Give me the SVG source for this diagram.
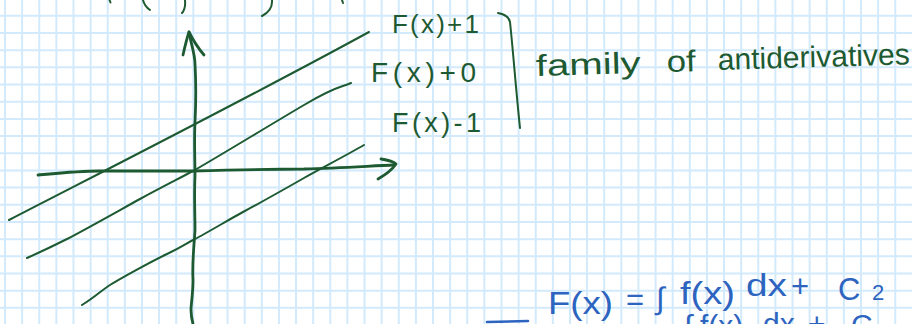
<svg xmlns="http://www.w3.org/2000/svg" width="912" height="324" viewBox="0 0 912 324">
<style>
.grid{fill:none;stroke:#d2eafb;stroke-width:2}
.ink{fill:none;stroke:#1d5a32;stroke-linecap:round;stroke-linejoin:round}
.axis{stroke-width:2.8}
.fam{stroke-width:2}
.g{fill:#1d5a32;font-family:"Liberation Sans",Arial,sans-serif}
.b{fill:#2d64c0;font-family:"Liberation Sans",Arial,sans-serif}
.bl{fill:none;stroke:#2d64c0;stroke-width:2.6;stroke-linecap:round}
</style>
<rect width="912" height="324" fill="#ffffff"/>
<g id="grid">
<path class="grid" d="M5,0V324M22.12,0V324M39.24,0V324M56.36,0V324M73.48,0V324M90.6,0V324M107.72,0V324M124.84,0V324M141.96,0V324M159.08,0V324M176.2,0V324M193.32,0V324M210.44,0V324M227.56,0V324M244.68,0V324M261.8,0V324M278.92,0V324M296.04,0V324M313.16,0V324M330.28,0V324M347.4,0V324M364.52,0V324M381.64,0V324M398.76,0V324M415.88,0V324M433,0V324M450.12,0V324M467.24,0V324M484.36,0V324M501.48,0V324M518.6,0V324M535.72,0V324M552.84,0V324M569.96,0V324M587.08,0V324M604.2,0V324M621.32,0V324M638.44,0V324M655.56,0V324M672.68,0V324M689.8,0V324M706.92,0V324M724.04,0V324M741.16,0V324M758.28,0V324M775.4,0V324M792.52,0V324M809.64,0V324M826.76,0V324M843.88,0V324M861,0V324M878.12,0V324M895.24,0V324"/>
<path class="grid" d="M0,15.8H912M0,32.98H912M0,50.16H912M0,67.34H912M0,84.52H912M0,101.7H912M0,118.88H912M0,136.06H912M0,153.24H912M0,170.42H912M0,187.6H912M0,204.78H912M0,221.96H912M0,239.14H912M0,256.32H912M0,273.5H912M0,290.68H912M0,307.86H912"/>
</g>
<g id="top-fragments">
<path class="ink fam" d="M109.5,0 L110.5,2.5M143,0 C144,4 147,8 150,10M185,0 C185.5,5 184.5,10 182,13M272,0 C272.5,6 270,12 262,16M342,0 L343,3"/>
</g>
<g id="axes">
<path id="y-axis" class="ink axis" d="M189,32 C191,44 195,54 195,64 C196,82 196,102 195,122 C194,142 195,160 195,176 C194,196 195,214 195,230 C194,248 192,262 193,280 C193,294 191,304 191,310 C191,316 192,320 193,324"/>
<path id="y-arrow" class="ink axis" d="M183,55 C185,46 187,38 189,32 C193,40 198,48 204,55"/>
<path id="x-axis" class="ink axis" d="M38,175 C60,173 80,171 100,171 L193,171 C230,170 270,169 304,169 C340,168 370,166 394,165"/>
<path id="x-arrow" class="ink axis" d="M381,159 C388,160 394,162 396,164 C392,170 385,175 378,179"/>
</g>
<g id="family-lines">
<path id="line-plus1" class="ink fam" d="M9,220 C100,173 250,97 369,32"/>
<path id="line-plus0" class="ink fam" d="M27,258 C45,250 55,245 67,239 S120,210 140,199 S180,178 193,171 S270,125 304,105 S340,88 351,83"/>
<path id="line-minus1" class="ink fam" d="M82,305 C95,297 102,290 110,285 S150,262 167,254 S185,244 195,239 S230,219 243,212 S290,186 304,178 S345,156 364,145"/>
</g>
<g id="labels">
<text class="g" x="392" y="33" font-size="26" textLength="87" lengthAdjust="spacing">F(x)+1</text>
<text class="g" x="371" y="82" font-size="28" textLength="105" lengthAdjust="spacing">F(x)+0</text>
<text class="g" x="392" y="132" font-size="27" textLength="89" lengthAdjust="spacing">F(x)-1</text>
</g>
<g id="brace">
<path class="ink fam" d="M498,13 C504,14 509,17 510,22 C513,50 516,90 520,128"/>
</g>
<g id="caption">
<text class="g" x="536" y="76" font-size="30" textLength="105" lengthAdjust="spacingAndGlyphs" transform="rotate(-1.7 536 76)">family</text>
<text class="g" x="667" y="72" font-size="30" textLength="29" lengthAdjust="spacingAndGlyphs" transform="rotate(-1.7 667 72)">of</text>
<text class="g" x="718" y="70" font-size="30" textLength="192" lengthAdjust="spacing" transform="rotate(-1.7 718 70)">antiderivatives</text>
</g>
<g id="formula">
<path class="bl" d="M487,322 L528,321"/>
<text class="b" font-size="31"><tspan x="548" y="314" textLength="65" lengthAdjust="spacingAndGlyphs">F(x)</tspan><tspan x="626" y="310">=</tspan><tspan x="656" y="309">∫</tspan><tspan x="680" y="304" textLength="55" lengthAdjust="spacingAndGlyphs">f(x)</tspan><tspan x="746" y="296" textLength="41" lengthAdjust="spacingAndGlyphs">dx</tspan><tspan x="791" y="297">+</tspan><tspan x="838" y="300">C</tspan><tspan x="872" y="300" font-size="22">2</tspan></text>
<text class="b" font-size="30"><tspan x="684" y="336">∫</tspan><tspan x="700" y="336">f(x)</tspan><tspan x="763" y="334">dx</tspan><tspan x="808" y="334">+</tspan><tspan x="851" y="335">C</tspan></text>
</g>
</svg>
